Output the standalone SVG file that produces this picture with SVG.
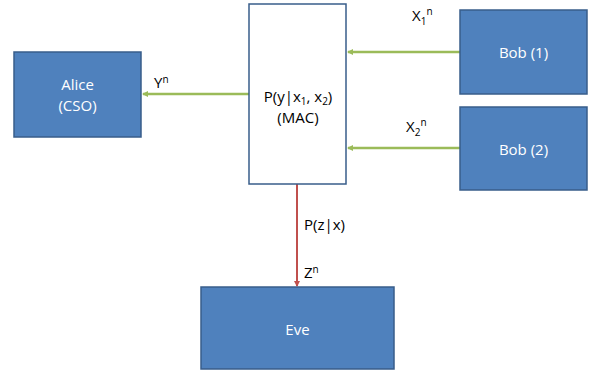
<svg xmlns="http://www.w3.org/2000/svg" width="592" height="374" viewBox="0 0 592 374">
<style>
.box{fill:#4F81BD;stroke:#385D8A;stroke-width:1.5}
.wbox{fill:#fff;stroke:#385D8A;stroke-width:1.5}
.wt{font-family:"Open Sans","Liberation Sans",sans-serif;font-size:15px;fill:#fff;text-anchor:middle}
.bt{font-family:"Open Sans","Liberation Sans",sans-serif;font-size:15px;fill:#000}
.g{stroke:#9BBB59;stroke-width:2.5;fill:none}
.r{stroke:#C0504D;stroke-width:2;fill:none}
</style>
<defs>
<marker id="ag" markerWidth="6" markerHeight="6" refX="5" refY="3" orient="auto" markerUnits="userSpaceOnUse"><path d="M0,0 L6,3 L0,6 z" fill="#9BBB59"/></marker>
<marker id="ar" markerWidth="6" markerHeight="6" refX="5" refY="3" orient="auto" markerUnits="userSpaceOnUse"><path d="M0,0 L6,3 L0,6 z" fill="#C0504D"/></marker>
</defs>
<rect width="592" height="374" fill="#fff"/>
<g id="connectors">
<line class="g" x1="460" y1="52" x2="348" y2="52" marker-end="url(#ag)"/>
<line class="g" x1="460" y1="148" x2="348" y2="148" marker-end="url(#ag)"/>
<line class="g" x1="249" y1="94" x2="143" y2="94" marker-end="url(#ag)"/>
<line class="r" x1="297" y1="184" x2="297" y2="286" marker-end="url(#ar)"/>
<text class="bt" x="412" y="21">X<tspan font-size="10" dy="4">1</tspan><tspan font-size="10" dy="-10">n</tspan></text>
<text class="bt" x="406" y="132">X<tspan font-size="10" dy="4">2</tspan><tspan font-size="10" dy="-10">n</tspan></text>
<text class="bt" x="154" y="88">Y<tspan font-size="10" dy="-5">n</tspan></text>
<text class="bt" x="304" y="230">P(z|x)</text>
<text class="bt" x="304" y="278">Z<tspan font-size="10" dy="-5">n</tspan></text>
</g>
<g id="mac">
<rect class="wbox" x="249" y="4" width="97" height="180"/>
<text class="bt" x="298" y="102" text-anchor="middle">P(y|x<tspan font-size="10" dy="3">1</tspan><tspan dy="-3">, x</tspan><tspan font-size="10" dy="3">2</tspan><tspan dy="-3">)</tspan></text>
<text class="bt" x="298" y="123" text-anchor="middle">(MAC)</text>
</g>
<g id="bob1">
<rect class="box" x="460" y="10" width="127" height="84"/>
<text class="wt" x="523.5" y="58">Bob (1)</text>
</g>
<g id="bob2">
<rect class="box" x="460" y="107" width="127" height="83"/>
<text class="wt" x="523.5" y="155">Bob (2)</text>
</g>
<g id="alice">
<rect class="box" x="14" y="52" width="127" height="85"/>
<text class="wt" x="77.5" y="90">Alice</text>
<text class="wt" x="77.5" y="111">(CSO)</text>
</g>
<g id="eve">
<rect class="box" x="201" y="287" width="193" height="82"/>
<text class="wt" x="297.5" y="335">Eve</text>
</g>
</svg>
